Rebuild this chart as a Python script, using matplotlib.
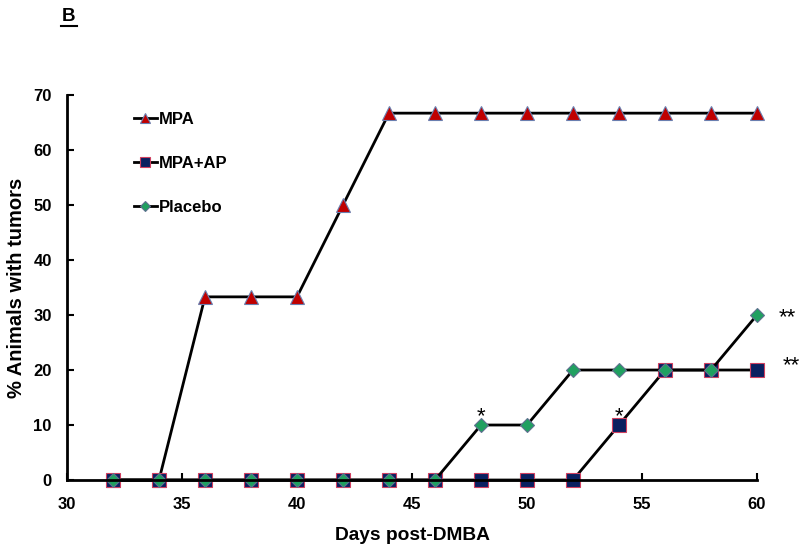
import numpy as np
import matplotlib.pyplot as plt
from matplotlib import rc

rc('font', **{'family': ['Liberation Sans', 'DejaVu Sans'], 'weight': 'bold'})
rc('axes', labelweight='bold')

days = [32, 34, 36, 38, 40, 42, 44, 46, 48, 50, 52, 54, 56, 58, 60]
mpa = [0, 0, 33.3, 33.3, 33.3, 50, 66.7, 66.7, 66.7, 66.7, 66.7, 66.7, 66.7, 66.7, 66.7]
mpa_ap = [0, 0, 0, 0, 0, 0, 0, 0, 0, 0, 0, 10, 20, 20, 20]
placebo = [0, 0, 0, 0, 0, 0, 0, 0, 10, 10, 20, 20, 20, 20, 30]

fig = plt.figure(figsize=(8, 5.52), dpi=100)
ax = fig.add_axes([0.08375, 0.1304, 0.8625, 0.6975])

ax.plot(days, mpa, color='k', lw=2, marker='^', ms=10, mfc='#c00000',
        mec='#6a7fb0', mew=0.8, label='MPA', clip_on=False)
ax.plot(days, mpa_ap, color='k', lw=2, marker='s', ms=10, mfc='#0a2060',
        mec='#d04060', mew=0.8, label='MPA+AP', clip_on=False)
ax.plot(days, placebo, color='k', lw=2, marker='D', ms=7.5, mfc='#20a060',
        mec='#607090', mew=0.8, label='Placebo', clip_on=False)

# significance marks
ax.text(48, 11.6, '*', ha='center', va='center', fontsize=16, fontweight='normal')
ax.text(54, 11.6, '*', ha='center', va='center', fontsize=16, fontweight='normal')
ax.text(60.95, 29.5, '**', ha='left', va='center', fontsize=16, fontweight='normal')
ax.text(61.1, 20.7, '**', ha='left', va='center', fontsize=16, fontweight='normal')

ax.set_xlim(30, 60)
ax.set_ylim(0, 70)
ax.set_xticks([30, 35, 40, 45, 50, 55, 60])
ax.set_yticks(range(0, 71, 10))
ax.tick_params(direction='in', length=5, width=1.5, labelsize=12)
ax.tick_params(axis='x', pad=12)
ax.tick_params(axis='y', pad=11)
for s in ['top', 'right']:
    ax.spines[s].set_visible(False)
for s in ['left', 'bottom']:
    ax.spines[s].set_linewidth(2)

ax.set_xlabel('Days post-DMBA', fontsize=13.8, labelpad=11)
ax.set_ylabel('% Animals with tumors', fontsize=14.5, labelpad=5)

ax.legend(loc='upper left', bbox_to_anchor=(0.075, 0.995), frameon=False,
          fontsize=12, handlelength=1.4, handletextpad=0.1, labelspacing=1.75,
          markerscale=0.7)

fig.text(0.086, 0.971, 'B', fontsize=13.5, ha='center', va='center')
fig.add_artist(plt.Line2D([0.0765, 0.0965], [0.952, 0.952], color='k', lw=1.5))

fig.savefig('out.png', dpi=100)
